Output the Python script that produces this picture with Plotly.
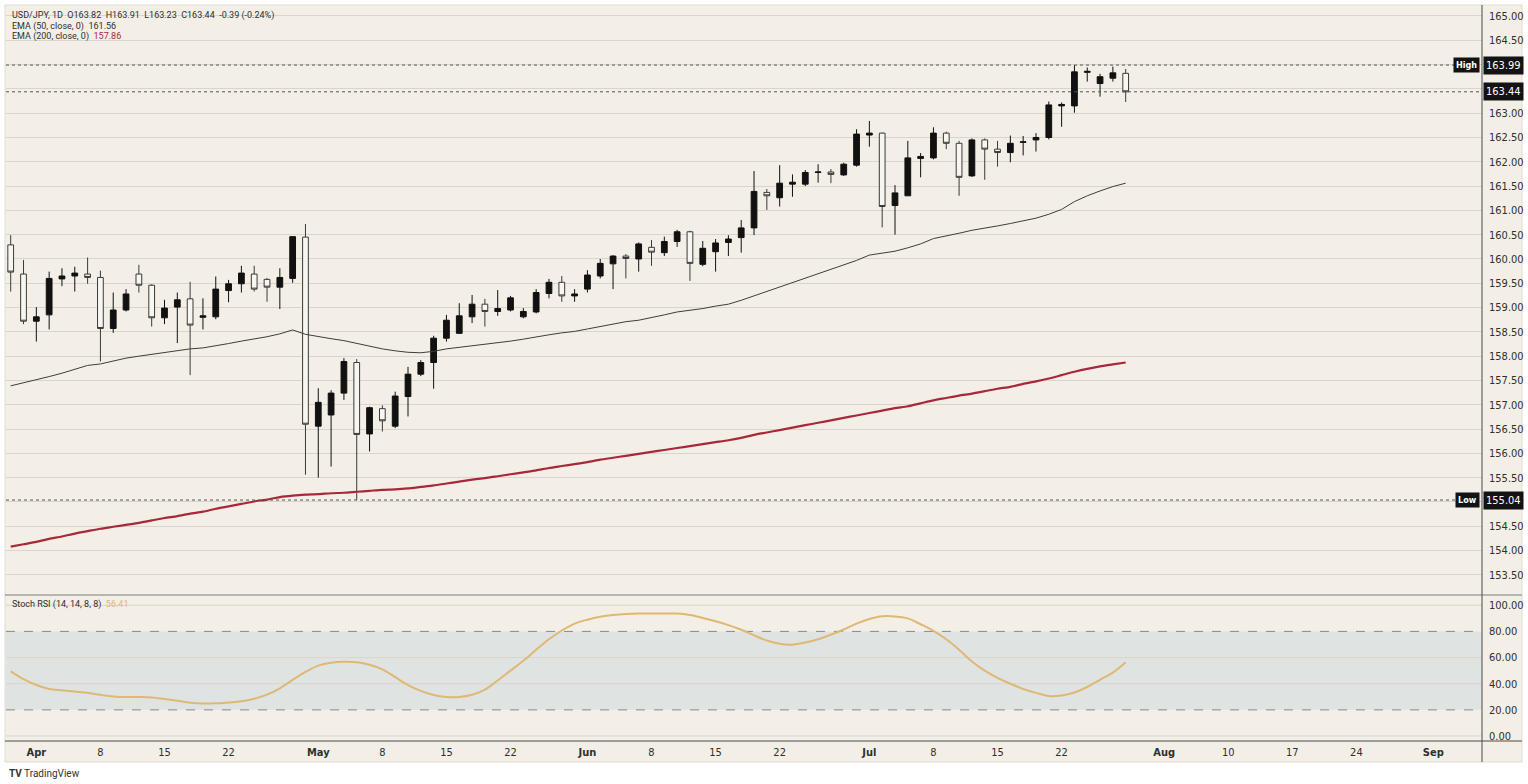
import plotly.graph_objects as go

# ---------------- data ----------------
OPEN = [160.29, 159.69, 158.72, 158.85, 159.59, 159.65, 159.69, 159.62, 158.57, 158.95,
        159.69, 159.46, 158.79, 159.01, 159.18, 158.80, 158.81, 159.35, 159.49, 159.69,
        159.58, 159.42, 159.60, 160.45, 156.56, 156.79, 157.24, 157.87, 156.40, 156.92,
        156.56, 157.17, 157.63, 157.87, 158.37, 158.47, 158.81, 159.07, 158.92, 158.95,
        158.81, 158.91, 159.29, 159.52, 159.24, 159.38, 159.65, 159.90, 160.06, 160.00,
        160.24, 160.13, 160.36, 160.56, 159.89, 160.15, 160.34, 160.44, 160.64, 161.37,
        161.26, 161.54, 161.54, 161.78, 161.79, 161.73, 161.93, 162.55, 162.59, 161.10,
        161.30, 162.07, 162.08, 162.59, 162.38, 161.71, 162.45, 162.26, 162.19, 162.40,
        162.45, 162.50, 163.15, 163.15, 163.84, 163.61, 163.72, 163.82]
HIGH = [160.49, 159.98, 159.01, 159.74, 159.81, 159.84, 160.03, 159.76, 159.31, 159.38,
        159.88, 159.48, 159.16, 159.31, 159.53, 159.19, 159.64, 159.57, 159.86, 159.86,
        159.61, 159.81, 160.47, 160.72, 157.34, 157.30, 157.96, 157.94, 156.96, 156.99,
        157.27, 157.78, 157.92, 158.42, 158.85, 159.09, 159.26, 159.18, 159.36, 159.24,
        158.99, 159.38, 159.59, 159.65, 159.38, 159.77, 160.00, 160.08, 160.10, 160.34,
        160.39, 160.46, 160.60, 160.58, 160.37, 160.41, 160.49, 160.80, 161.81, 161.44,
        161.93, 161.74, 161.83, 161.95, 161.85, 161.98, 162.67, 162.84, 162.60, 161.52,
        162.43, 162.18, 162.71, 162.62, 162.43, 162.48, 162.48, 162.43, 162.54, 162.53,
        162.59, 163.24, 163.22, 163.99, 163.94, 163.81, 163.96, 163.91]
LOW = [159.33, 158.66, 158.30, 158.55, 159.44, 159.33, 159.49, 157.89, 158.48, 158.92,
       159.31, 158.61, 158.66, 158.27, 157.61, 158.55, 158.76, 159.11, 159.31, 159.33,
       159.12, 158.97, 159.51, 155.56, 155.50, 155.73, 157.10, 155.04, 156.04, 156.45,
       156.52, 156.76, 157.59, 157.33, 158.30, 158.46, 158.68, 158.61, 158.83, 158.92,
       158.78, 158.88, 159.19, 159.12, 159.12, 159.31, 159.60, 159.38, 159.60, 159.74,
       159.86, 160.06, 160.25, 159.55, 159.85, 159.74, 160.06, 160.13, 160.49, 161.01,
       161.08, 161.28, 161.50, 161.57, 161.56, 161.71, 161.90, 162.31, 160.65, 160.50,
       161.30, 161.68, 162.05, 162.26, 161.30, 161.69, 161.63, 161.90, 161.99, 162.13,
       162.21, 162.46, 162.72, 163.01, 163.65, 163.34, 163.65, 163.23]
CLOSE = [159.73, 158.72, 158.81, 159.60, 159.65, 159.71, 159.62, 158.57, 158.95, 159.28,
         159.46, 158.79, 158.99, 159.16, 158.64, 158.83, 159.38, 159.49, 159.71, 159.38,
         159.42, 159.62, 160.46, 156.60, 157.05, 157.24, 157.89, 156.39, 156.94, 156.67,
         157.18, 157.63, 157.87, 158.37, 158.74, 158.83, 159.07, 158.92, 158.98, 159.20,
         158.92, 159.31, 159.52, 159.24, 159.28, 159.67, 159.91, 160.06, 160.01, 160.31,
         160.14, 160.36, 160.56, 159.91, 160.22, 160.33, 160.41, 160.64, 161.39, 161.30,
         161.56, 161.58, 161.78, 161.79, 161.74, 161.95, 162.57, 162.59, 161.08, 161.36,
         162.08, 162.11, 162.59, 162.38, 161.68, 162.45, 162.26, 162.19, 162.38, 162.41,
         162.50, 163.17, 163.18, 163.85, 163.86, 163.75, 163.83, 163.44]
EMA50 = [157.39, 157.45, 157.51, 157.58, 157.65, 157.73, 157.81, 157.84, 157.90, 157.96,
         158.00, 158.04, 158.08, 158.12, 158.15, 158.17, 158.21, 158.26, 158.31, 158.35,
         158.40, 158.46, 158.54, 158.45, 158.40, 158.36, 158.32, 158.26, 158.20, 158.15,
         158.11, 158.08, 158.07, 158.10, 158.15, 158.18, 158.21, 158.24, 158.27, 158.31,
         158.35, 158.40, 158.44, 158.48, 158.51, 158.56, 158.61, 158.66, 158.71, 158.74,
         158.79, 158.85, 158.91, 158.94, 158.98, 159.03, 159.07, 159.15, 159.24, 159.33,
         159.42, 159.52, 159.61, 159.70, 159.78, 159.87, 159.97, 160.08, 160.12, 160.16,
         160.23, 160.31, 160.42, 160.47, 160.53, 160.59, 160.63, 160.68, 160.73, 160.78,
         160.84, 160.92, 161.02, 161.18, 161.30, 161.40, 161.49, 161.56]
EMA200 = [154.08, 154.13, 154.18, 154.24, 154.29, 154.35, 154.40, 154.45, 154.49, 154.53,
          154.57, 154.62, 154.67, 154.71, 154.76, 154.80, 154.86, 154.91, 154.96, 155.01,
          155.05, 155.10, 155.13, 155.15, 155.16, 155.18, 155.19, 155.21, 155.23, 155.25,
          155.26, 155.28, 155.31, 155.34, 155.38, 155.42, 155.46, 155.49, 155.53, 155.57,
          155.61, 155.65, 155.70, 155.74, 155.78, 155.82, 155.87, 155.91, 155.95, 155.99,
          156.03, 156.07, 156.11, 156.15, 156.19, 156.23, 156.27, 156.32, 156.38, 156.43,
          156.48, 156.53, 156.58, 156.63, 156.68, 156.73, 156.78, 156.83, 156.88, 156.93,
          156.97, 157.03, 157.09, 157.14, 157.19, 157.23, 157.28, 157.33, 157.37, 157.43,
          157.48, 157.54, 157.61, 157.68, 157.74, 157.79, 157.83, 157.87]
STOCH_RSI = [49.5, 43.5, 39.0, 36.0, 35.0, 34.0, 33.0, 31.5, 30.3, 29.8,
             29.8, 29.5, 28.3, 27.0, 25.5, 24.8, 25.0, 25.7, 26.5, 28.5,
             31.6, 36.5, 43.0, 49.0, 53.8, 56.0, 56.8, 56.4, 54.5, 51.0,
             45.0, 39.0, 34.5, 31.3, 29.8, 29.8, 31.5, 35.5, 42.5, 50.0,
             57.5, 66.0, 74.0, 80.7, 86.0, 89.0, 91.2, 92.6, 93.4, 93.7,
             93.7, 93.7, 93.7, 92.5, 90.3, 87.8, 84.8, 81.3, 77.0, 73.0,
             70.5, 69.9, 71.5, 74.0, 77.5, 81.5, 86.0, 89.5, 91.6, 91.5,
             90.0, 85.5, 80.5, 74.0, 66.0, 57.0, 50.0, 44.5, 40.0, 36.0,
             33.0, 30.6, 31.0, 33.3, 37.5, 43.0, 48.5, 56.4]

X_TICK_POS = [2, 7, 12, 17, 24, 29, 34, 39, 45, 50, 55, 60, 67, 72, 77, 82, 90, 95, 100, 105, 111]
X_TICK_TEXT = ["<b>Apr</b>", "8", "15", "22", "<b>May</b>", "8", "15", "22", "<b>Jun</b>", "8", "15", "22",
               "<b>Jul</b>", "8", "15", "22", "<b>Aug</b>", "10", "17", "24", "<b>Sep</b>"]
PRICE_TICKS = [153.5, 154.0, 154.5, 155.0, 155.5, 156.0, 156.5, 157.0, 157.5, 158.0, 158.5, 159.0,
               159.5, 160.0, 160.5, 161.0, 161.5, 162.0, 162.5, 163.0, 163.5, 164.0, 164.5, 165.0]
PRICE_HIDDEN = [155.0, 163.5, 164.0]
RSI_TICKS = [0, 20, 40, 60, 80, 100]
RSI_SOLID = [0, 40, 60, 100]
RSI_DASHED = [20, 80]
RSI_BAND = [20, 80]

HIGH_VAL, LOW_VAL, LAST_VAL = 163.99, 155.04, 163.44
NB = "\u00a0"
LEGEND_MAIN = f"USD/JPY, 1D{NB}{NB}O163.82{NB}{NB}H163.91{NB}{NB}L163.23{NB}{NB}C163.44{NB}{NB}-0.39 (-0.24%)"
EMA50_LABEL, EMA50_LAST = "EMA (50, close, 0)", "161.56"
EMA200_LABEL, EMA200_LAST = "EMA (200, close, 0)", "157.86"
RSI_LABEL, RSI_LAST = "Stoch RSI (14, 14, 8, 8)", "56.41"

# ---------------- style ----------------
W, H = 1528, 784
ML, MR, MT, MB = 6, 46, 5, 43
PW, PH = W - ML - MR, H - MT - MB
BG = "#f3efe6"
GRID = "#d9d5cc"
TXT = "#2f2f2f"
FONT = "Liberation Sans Narrow, DejaVu Sans Condensed, Liberation Sans, sans-serif"
LFONT = "Roboto, Liberation Sans, sans-serif"
RED = "#a8283a"
TAN = "#dfb873"


def px_x(px):
    return (px - ML) / PW


def px_y(py):
    return (H - MB - py) / PH


x = list(range(len(OPEN)))

fig = go.Figure()
fig.add_trace(go.Candlestick(
    x=x, open=OPEN, high=HIGH, low=LOW, close=CLOSE,
    increasing=dict(line=dict(color="#111111", width=1), fillcolor="#111111"),
    decreasing=dict(line=dict(color="#3a3a3a", width=1), fillcolor="#f8f6f1"),
    whiskerwidth=0, xaxis="x", yaxis="y", showlegend=False, hoverinfo="skip"))
fig.add_trace(go.Scatter(x=x, y=EMA50, mode="lines", line=dict(color="#3d3d3d", width=1),
                         xaxis="x", yaxis="y", showlegend=False, hoverinfo="skip"))
fig.add_trace(go.Scatter(x=x, y=EMA200, mode="lines", line=dict(color=RED, width=2.2, shape="spline", smoothing=0.6),
                         xaxis="x", yaxis="y", showlegend=False, hoverinfo="skip"))
fig.add_trace(go.Scatter(x=x, y=STOCH_RSI, mode="lines", line=dict(color=TAN, width=2, shape="spline"),
                         xaxis="x2", yaxis="y2", showlegend=False, hoverinfo="skip"))

price_text = ["" if v in PRICE_HIDDEN else f"{v:.2f}" for v in PRICE_TICKS]
xr = [(ML - 10.7) / 12.816, (ML + PW - 10.7) / 12.816]

shapes = []
shapes.append(dict(type="rect", xref="paper", yref="paper", x0=px_x(5), x1=px_x(1522), y0=px_y(762), y1=px_y(5),
                   fillcolor=BG, line=dict(color="#dedbd4", width=1), layer="below"))
shapes.append(dict(type="rect", xref="x2 domain", yref="y2", x0=0, x1=1, y0=RSI_BAND[0], y1=RSI_BAND[1],
                   fillcolor="#dfe3e2", line=dict(width=0), layer="below"))
for v in RSI_SOLID:
    shapes.append(dict(type="line", xref="x2 domain", yref="y2", x0=0, x1=1, y0=v, y1=v,
                       line=dict(color=GRID, width=1), layer="below"))
for v in RSI_DASHED:
    shapes.append(dict(type="line", xref="x2 domain", yref="y2", x0=0, x1=1, y0=v, y1=v,
                       line=dict(color="#8a8a8a", width=1, dash="dash"), layer="below"))
badge_left = px_x(1457)
shapes.append(dict(type="line", xref="x domain", yref="y", x0=0, x1=badge_left, y0=HIGH_VAL, y1=HIGH_VAL,
                   line=dict(color="#555555", width=1, dash="dot")))
shapes.append(dict(type="line", xref="x domain", yref="y", x0=0, x1=1, y0=LAST_VAL, y1=LAST_VAL,
                   line=dict(color="#555555", width=1, dash="dot")))
shapes.append(dict(type="line", xref="x domain", yref="y", x0=0, x1=badge_left, y0=LOW_VAL, y1=LOW_VAL,
                   line=dict(color="#555555", width=1, dash="dot")))
shapes.append(dict(type="line", xref="paper", yref="paper", x0=px_x(5), x1=px_x(1522), y0=px_y(595), y1=px_y(595),
                   line=dict(color="#7d7d7d", width=1)))
shapes.append(dict(type="line", xref="paper", yref="paper", x0=px_x(5), x1=px_x(1522), y0=px_y(741), y1=px_y(741),
                   line=dict(color="#4a4a4a", width=1)))
shapes.append(dict(type="line", xref="paper", yref="paper", x0=px_x(1482), x1=px_x(1482), y0=px_y(762), y1=px_y(5),
                   line=dict(color="#4a4a4a", width=1)))

ann = []
def legend_line(text, py, size=9):
    ann.append(dict(xref="paper", yref="paper", x=px_x(10), y=px_y(py), xanchor="left", yanchor="middle",
                    text=text, showarrow=False, font=dict(family=LFONT, size=size, color=TXT)))

legend_line(LEGEND_MAIN, 15)
legend_line(f"{EMA50_LABEL}{NB}{NB}{EMA50_LAST}", 26)
legend_line(f"{EMA200_LABEL}{NB}{NB}<span style='color:{RED}'>{EMA200_LAST}</span>", 37)
legend_line(f"{RSI_LABEL}{NB}{NB}<span style='color:{TAN}'>{RSI_LAST}</span>", 604)

def badge(text, yval, left=True, size=10):
    ann.append(dict(xref="paper", yref="y", x=1, y=yval, xanchor="left" if left else "right", yanchor="middle",
                    xshift=1 if left else -2, text=f"<b>{text}</b>" if not left else text, showarrow=False,
                    bgcolor="#131313", borderpad=2, font=dict(family=FONT, size=size, color="#ffffff")))

badge(f"{HIGH_VAL:.2f}", HIGH_VAL, True, 11)
badge(f"{LAST_VAL:.2f}", LAST_VAL, True, 11)
badge(f"{LOW_VAL:.2f}", LOW_VAL, True, 11)
badge("High", HIGH_VAL, False, 9)
badge("Low", LOW_VAL, False, 9)

ann.append(dict(xref="paper", yref="paper", x=px_x(7), y=px_y(773), xanchor="left", yanchor="middle",
                text="<b>TV</b> TradingView", showarrow=False, font=dict(family=LFONT, size=10, color="#333333")))

fig.update_layout(
    width=W, height=H, margin=dict(l=ML, r=MR, t=MT, b=MB),
    paper_bgcolor="#ffffff", plot_bgcolor=BG,
    boxgap=0.36,
    showlegend=False,
    font=dict(family=FONT, size=11, color=TXT),
    xaxis=dict(domain=[0, 1], anchor="y", range=xr, showgrid=False, zeroline=False, showticklabels=False,
               rangeslider=dict(visible=False), fixedrange=True),
    xaxis2=dict(domain=[0, 1], anchor="y2", matches="x", range=xr, showgrid=False, zeroline=False,
                tickmode="array", tickvals=X_TICK_POS, ticktext=X_TICK_TEXT, ticks="", ticklabelstandoff=3,
                tickfont=dict(family=FONT, size=11, color=TXT)),
    yaxis=dict(domain=[px_y(595), 1], anchor="x", side="right", range=[153.086, 165.226],
               tickmode="array", tickvals=PRICE_TICKS, ticktext=price_text, showgrid=True, gridcolor=GRID,
               gridwidth=1, zeroline=False, ticks="", ticklabelstandoff=6,
               tickfont=dict(family=FONT, size=11, color=TXT)),
    yaxis2=dict(domain=[0, px_y(596)], anchor="x2", side="right", range=[-3.83, 107.1],
                tickmode="array", tickvals=RSI_TICKS, ticktext=[f"{v:.2f}" for v in RSI_TICKS],
                showgrid=False, zeroline=False, ticks="", ticklabelstandoff=6,
                tickfont=dict(family=FONT, size=11, color=TXT)),
    shapes=shapes, annotations=ann,
)

fig.write_html("out.html")
